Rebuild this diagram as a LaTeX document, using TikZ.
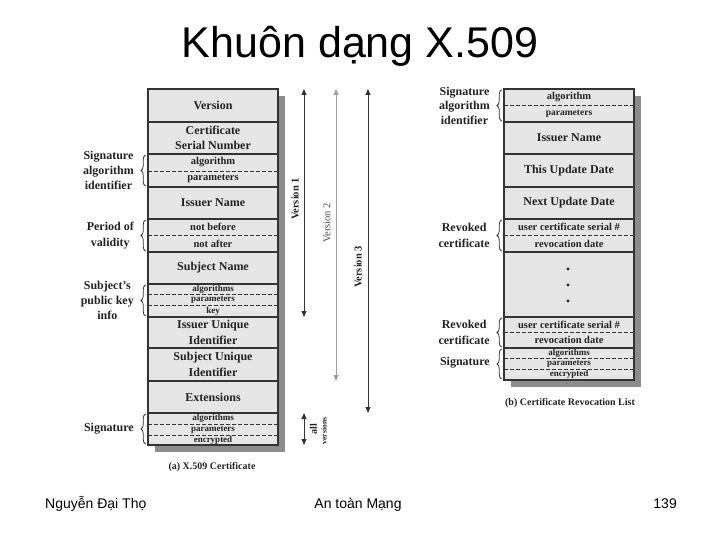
\documentclass[tikz,border=0pt]{standalone}
\usepackage{fontspec}
\setmainfont{Liberation Serif}
\newfontfamily\arialf{Liberation Sans}
\usetikzlibrary{decorations.pathreplacing,arrows.meta}
\definecolor{boxfill}{HTML}{E6E6E6}
\definecolor{shadowc}{HTML}{8C8C8C}
\definecolor{edge}{HTML}{333333}
\definecolor{txt}{HTML}{222222}
\definecolor{lightarr}{HTML}{A0A0A0}
\begin{document}
\begin{tikzpicture}[x=1pt,y=-1pt,
  row/.style={draw=edge, fill=boxfill, line width=1.3pt, minimum width=130pt, inner sep=0pt, outer sep=0pt,
    font=\bfseries\fontsize{12}{15.5}\selectfont, align=center, text=txt},
  sub/.style={font=\bfseries\fontsize{10.5}{12}\selectfont, inner sep=0pt, text=txt},
  tiny/.style={font=\bfseries\fontsize{9}{10}\selectfont, inner sep=0pt, text=txt},
  lab/.style={font=\bfseries\fontsize{12}{15}\selectfont, align=center, anchor=east, inner sep=0pt, text=txt},
  sepline/.style={draw=edge, dash pattern=on 3.5pt off 2.5pt, line width=0.8pt},
  brc/.style={draw=edge, line width=0.8pt, decorate, decoration={brace, amplitude=4.5pt}},
  varr/.style={draw=edge, line width=1pt, {Triangle[length=6pt,width=5pt]}-{Triangle[length=6pt,width=5pt]}},
  vlab/.style={font=\bfseries\fontsize{10.5}{12}\selectfont, rotate=90, inner sep=0pt, text=txt},
  captxt/.style={font=\bfseries\fontsize{10}{12}\selectfont, inner sep=0pt, text=txt},
  foot/.style={font=\arialf\fontsize{14}{16}\selectfont, inner sep=0pt}
]
\useasboundingbox (0,0) rectangle (720,540);

% title
\node[font=\arialf\fontsize{43}{48}\selectfont, anchor=base, inner sep=0pt] (title) at (360,58) {Khuôn dạng X.509};

% ---------- left: X.509 certificate ----------
\fill[shadowc] (155,96) rectangle (285,452);
\node[row, minimum height=33pt] (v)   at (213,105.5) {Version};
\node[row, minimum height=32pt] (csn) at (213,138) {Certificate\\Serial Number};
\node[row, minimum height=33pt] (sa)  at (213,170.5) {};
\node[row, minimum height=32pt] (iss) at (213,203) {Issuer Name};
\node[row, minimum height=33pt] (per) at (213,235.5) {};
\node[row, minimum height=32pt] (sub) at (213,268) {Subject Name};
\node[row, minimum height=33pt] (pk)  at (213,300.5) {};
\node[row, minimum height=31pt] (iu)  at (213,332.5) {Issuer Unique\\Identifier};
\node[row, minimum height=33pt] (su)  at (213,364.5) {Subject Unique\\Identifier};
\node[row, minimum height=32pt] (ext) at (213,397) {Extensions};
\node[row, minimum height=32pt] (sig) at (213,429) {};

\draw[sepline] (sa.west |- 0,171) -- (sa.east |- 0,171);
\node[sub] (saa) at (213,162.5) {algorithm};
\node[sub] (sap) at (213,179) {parameters};

\draw[sepline] (per.west |- 0,235) -- (per.east |- 0,235);
\node[sub] (pnb) at (213,227) {not before};
\node[sub] (pna) at (213,243.5) {not after};

\draw[sepline] (pk.west |- 0,294) -- (pk.east |- 0,294);
\draw[sepline] (pk.west |- 0,305) -- (pk.east |- 0,305);
\node[tiny] (pka) at (213,289) {algorithms};
\node[tiny] (pkp) at (213,299.5) {parameters};
\node[tiny] (pkk) at (213,311) {key};

\draw[sepline] (sig.west |- 0,424) -- (sig.east |- 0,424);
\draw[sepline] (sig.west |- 0,435) -- (sig.east |- 0,435);
\node[tiny] (sga) at (213,418.5) {algorithms};
\node[tiny] (sgp) at (213,429.5) {parameters};
\node[tiny] (sge) at (213,440) {encrypted};

% left labels and braces
\draw[brc] ([xshift=-2.5pt,yshift=1pt]sa.south west) -- ([xshift=-2.5pt,yshift=-1pt]sa.north west);
\node[lab] (lsa) at (134,170.5) {Signature\\algorithm\\identifier};
\draw[brc] ([xshift=-2.5pt,yshift=1pt]per.south west) -- ([xshift=-2.5pt,yshift=-1pt]per.north west);
\node[lab, font=\bfseries\fontsize{12}{16}\selectfont] (lper) at (134,235.5) {Period of\\validity};
\draw[brc] ([xshift=-2.5pt,yshift=1pt]pk.south west) -- ([xshift=-2.5pt,yshift=-1pt]pk.north west);
\node[lab] (lpk) at (134,300.5) {Subject's\\public key\\info};
\draw[brc] ([xshift=-2.5pt,yshift=1pt]sig.south west) -- ([xshift=-2.5pt,yshift=-1pt]sig.north west);
\node[lab] (lsig) at (134,429) {Signature};

\node[captxt] (capa) at (212,467) {(a) X.509 Certificate};

% version arrows
\coordinate (v1t) at (304,89);  \coordinate (v1b) at (304,317);
\coordinate (v2t) at (336,89);  \coordinate (v2b) at (336,381);
\coordinate (v3t) at (368,89);  \coordinate (v3b) at (368,413);
\coordinate (avt) at (304,413); \coordinate (avb) at (304,445);
\draw[varr] (v1t) -- (v1b);
\draw[varr, draw=lightarr, line width=0.8pt] (v2t) -- (v2b);
\draw[varr] (v3t) -- (v3b);
\draw[varr] (avt) -- (avb);
\node[vlab] (lv1) at (295,199) {Version 1};
\node[vlab, text=txt!80, font=\fontsize{10.5}{12}\selectfont] (lv2) at (327,223) {Version 2};
\node[vlab] (lv3) at (358,267) {Version 3};
\node[vlab, font=\bfseries\fontsize{10}{12}\selectfont] (lall) at (313.5,429) {all};
\node[vlab, font=\bfseries\fontsize{7.5}{9}\selectfont] (lver) at (324,431) {versions};

% ---------- right: CRL ----------
\fill[shadowc] (511,96) rectangle (641,387);
\node[row, minimum height=33pt] (rsa)   at (569,105.5) {};
\node[row, minimum height=32pt] (riss)  at (569,138) {Issuer Name};
\node[row, minimum height=33pt] (rthis) at (569,170.5) {This Update Date};
\node[row, minimum height=32pt] (rnext) at (569,203) {Next Update Date};
\node[row, minimum height=33pt] (rr1)   at (569,235.5) {};
\node[row, minimum height=65pt] (rdots) at (569,284.5) {};
\node[row, minimum height=31pt] (rr2)   at (569,332.5) {};
\node[row, minimum height=32pt] (rsig)  at (569,364) {};

\draw[sepline] (rsa.west |- 0,105) -- (rsa.east |- 0,105);
\node[sub] (rsaa) at (569,97) {algorithm};
\node[sub, font=\bfseries\fontsize{9.5}{11}\selectfont] (rsap) at (569,113.5) {parameters};

\draw[sepline] (rr1.west |- 0,235) -- (rr1.east |- 0,235);
\node[sub] (rr1a) at (569,227) {user certificate serial \#};
\node[sub] (rr1b) at (569,243.5) {revocation date};

\fill[txt] (568,269) circle (1.6pt) (568,285) circle (1.6pt) (568,301) circle (1.6pt);

\draw[sepline] (rr2.west |- 0,332) -- (rr2.east |- 0,332);
\node[sub] (rr2a) at (569,324.5) {user certificate serial \#};
\node[sub] (rr2b) at (569,340) {revocation date};

\draw[sepline] (rsig.west |- 0,358) -- (rsig.east |- 0,358);
\draw[sepline] (rsig.west |- 0,369) -- (rsig.east |- 0,369);
\node[tiny] (rsga) at (569,353) {algorithms};
\node[tiny] (rsgp) at (569,363.5) {parameters};
\node[tiny] (rsge) at (569,374.5) {encrypted};

% right labels and braces
\draw[brc] ([xshift=-2.5pt,yshift=1pt]rsa.south west) -- ([xshift=-2.5pt,yshift=-1pt]rsa.north west);
\node[lab, font=\bfseries\fontsize{12}{14.5}\selectfont] (lrsa) at (490,105.5) {Signature\\algorithm\\identifier};
\draw[brc] ([xshift=-2.5pt,yshift=1pt]rr1.south west) -- ([xshift=-2.5pt,yshift=-1pt]rr1.north west);
\node[lab, font=\bfseries\fontsize{12}{16.5}\selectfont] (lrr1) at (490,235.5) {Revoked\\certificate};
\draw[brc] ([xshift=-2.5pt,yshift=1pt]rr2.south west) -- ([xshift=-2.5pt,yshift=-1pt]rr2.north west);
\node[lab, font=\bfseries\fontsize{12}{16.5}\selectfont] (lrr2) at (490,332.5) {Revoked\\certificate};
\draw[brc] ([xshift=-2.5pt,yshift=1pt]rsig.south west) -- ([xshift=-2.5pt,yshift=-1pt]rsig.north west);
\node[lab] (lrsig) at (490,363) {Signature};

\node[captxt] (capb) at (570,403) {(b) Certificate Revocation List};

% footer
\node[foot, anchor=base west] (f1) at (45,508) {Nguyễn Đại Thọ};
\node[foot, anchor=base] (f2) at (358,508) {An toàn Mạng};
\node[foot, anchor=base east] (f3) at (677,508) {139};
\end{tikzpicture}
\end{document}
